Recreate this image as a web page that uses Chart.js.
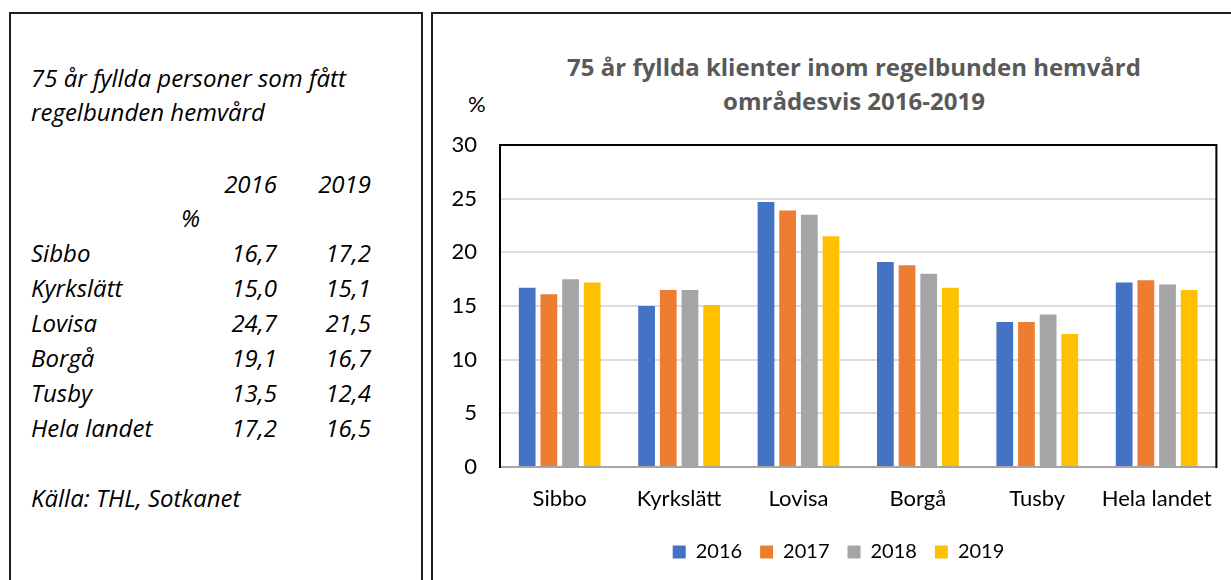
<!DOCTYPE html>
<html><head><meta charset="utf-8">
<script src="https://cdn.jsdelivr.net/npm/chart.js@4.4.1/dist/chart.umd.min.js"></script>
<style>
html,body{margin:0;padding:0;background:#fff;width:1231px;height:580px;overflow:hidden;}
.box{position:absolute;border:2px solid #1e1e1e;box-sizing:border-box;}
.lt{position:absolute;font-family:'Open Sans',sans-serif;font-style:italic;font-size:24px;line-height:34px;height:34px;color:#000;white-space:nowrap;}
.r{text-align:right;width:100px;}
#ctitle{position:absolute;left:454px;top:50px;width:800px;text-align:center;font-family:'Open Sans',sans-serif;font-weight:bold;font-size:24px;line-height:34px;color:#595959;}
#pct{position:absolute;left:468px;top:89px;font-family:Lato,sans-serif;font-size:22px;line-height:30px;color:#000;}
#c{position:absolute;left:450px;top:125px;}
</style></head>
<body>
<div class="box" style="left:9px;top:12px;width:414px;height:620px"></div>
<div class="box" style="left:431px;top:12px;width:830px;height:620px"></div>
<div id="left"></div>
<div id="ctitle">75 år fyllda klienter inom regelbunden hemvård<br>områdesvis 2016-2019</div>
<div id="pct">%</div>
<canvas id="c" width="781" height="455"></canvas>
<script>
// ---- data ----
const categories = ['Sibbo', 'Kyrkslätt', 'Lovisa', 'Borgå', 'Tusby', 'Hela landet'];
const years = ['2016', '2017', '2018', '2019'];
const v2016 = [16.7, 15.0, 24.7, 19.1, 13.5, 17.2];
const v2017 = [16.1, 16.5, 23.9, 18.8, 13.5, 17.4];
const v2018 = [17.5, 16.5, 23.5, 18.0, 14.2, 17.0];
const v2019 = [17.2, 15.1, 21.5, 16.7, 12.4, 16.5];
const yTicks = [0, 5, 10, 15, 20, 25, 30];
const leftTitle = ['75 år fyllda personer som fått', 'regelbunden hemvård'];
const leftSource = 'Källa: THL, Sotkanet';

// ---- left text panel ----
const fmt = v => v.toFixed(1).replace('.', ',');
const left = document.getElementById('left');
function addText(txt, x, cy, right) {
  const d = document.createElement('div');
  d.className = 'lt' + (right ? ' r' : '');
  d.textContent = txt;
  d.style.top = (cy - 17) + 'px';
  d.style.left = (right ? x - 100 : x) + 'px';
  left.appendChild(d);
}
addText(leftTitle[0], 31, 78);
addText(leftTitle[1], 31, 112);
addText(years[0], 277, 184, true);
addText(years[3], 371, 184, true);
addText('%', 181, 218);
categories.forEach((c, i) => {
  const cy = 253 + 35 * i;
  addText(c, 31, cy);
  addText(fmt(v2016[i]), 277, cy, true);
  addText(fmt(v2019[i]), 371, cy, true);
});
addText(leftSource, 31, 498);

// ---- chart ----
const seriesColors = ['#4472C4', '#ED7D31', '#A5A5A5', '#FFC000'];
const seriesValues = [v2016, v2017, v2018, v2019];

const frame = {
  id: 'frame',
  afterDatasetsDraw(chart) {
    const {ctx, chartArea: a} = chart;
    ctx.save();
    ctx.lineWidth = 2;
    ctx.strokeStyle = '#a6a6a6';
    ctx.beginPath(); ctx.moveTo(a.left, a.bottom); ctx.lineTo(a.right, a.bottom); ctx.stroke();
    ctx.strokeStyle = '#000';
    ctx.beginPath();
    ctx.moveTo(a.left, a.bottom + 1); ctx.lineTo(a.left, a.top);
    ctx.lineTo(a.right, a.top); ctx.lineTo(a.right, a.bottom + 1);
    ctx.stroke();
    ctx.restore();
  }
};

new Chart(document.getElementById('c'), {
  type: 'bar',
  data: {
    labels: categories,
    datasets: years.map((y, i) => ({
      label: y,
      data: seriesValues[i],
      backgroundColor: seriesColors[i],
      borderWidth: 0,
      categoryPercentage: 0.726,
      barPercentage: 0.773
    }))
  },
  options: {
    responsive: false,
    devicePixelRatio: 1,
    animation: false,
    layout: {padding: {top: 20, right: 4, left: 0, bottom: 8}},
    plugins: {
      title: {display: false},
      tooltip: {enabled: false},
      legend: {
        position: 'bottom',
        labels: {
          boxWidth: 13, boxHeight: 13, padding: 18,
          color: '#000',
          font: {family: 'Lato', size: 20}
        }
      }
    },
    scales: {
      x: {
        grid: {display: false, drawTicks: false},
        border: {display: false},
        ticks: {color: '#000', padding: 19, font: {family: 'Lato', size: 22}},
        afterFit(s) { s.height = 57; }
      },
      y: {
        min: 0, max: 30,
        afterBuildTicks(s) { s.ticks = yTicks.map(v => ({value: v})); },
        grid: {color: '#dcdcdc', lineWidth: 2, drawTicks: false},
        border: {display: false},
        ticks: {color: '#000', padding: 23, font: {family: 'Lato', size: 22}},
        afterFit(s) { s.width = 50; s.paddingTop = 0; s.paddingBottom = 0; }
      }
    }
  },
  plugins: [frame]
});
</script>
</body></html>
